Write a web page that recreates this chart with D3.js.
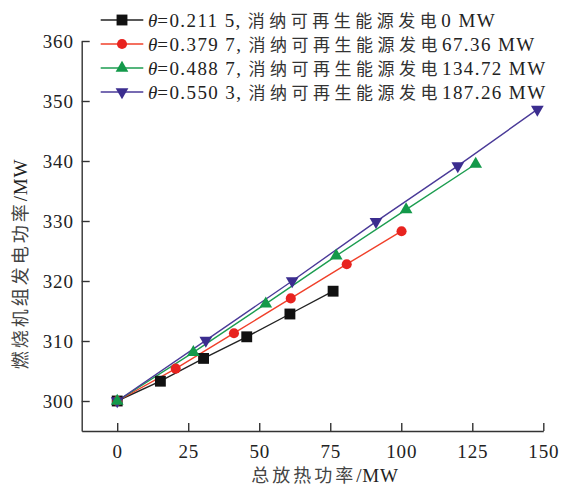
<!DOCTYPE html>
<html>
<head>
<meta charset="utf-8">
<script src="https://cdn.jsdelivr.net/npm/d3@7"></script>
<style>
  body { margin: 0; background: #fff; }
  text { fill: #222; }
</style>
</head>
<body>
<div id="chart"></div>
<script>
// total heat release (MW) and burning unit power (MW), one pair per theta case
const heat0 = [0, 15.2, 30.4, 45.6, 60.8, 76.0]
const power0 = [300, 303.3, 307.1, 310.7, 314.5, 318.3]
const heat1 = [0, 20.6, 41.1, 61.1, 80.8, 100.1]
const power1 = [300, 305.4, 311.3, 317.1, 322.8, 328.3]
const heat2 = [0, 26.8, 52.3, 77.1, 101.7, 126.2]
const power2 = [300, 308.1, 316.2, 324.2, 331.9, 339.5]
const heat3 = [0, 31.2, 61.6, 91.1, 119.9, 147.9]
const power3 = [300, 310.1, 320.0, 329.9, 339.2, 348.6]

const thetas = ['0.211 5', '0.379 7', '0.488 7', '0.550 3']
const renew = ['0', '67.36', '134.72', '187.26']
const xTicks = [0, 25, 50, 75, 100, 125, 150]
const yTicks = [300, 310, 320, 330, 340, 350, 360]

const colors = ['#111111', '#e8231f', '#13994a', '#3b2d8f']
const lineColors = ['#222222', '#f0402a', '#1c9d50', '#4a3a98']
const shapes = [d3.symbolSquare, d3.symbolCircle, d3.symbolTriangle, d3.symbolTriangle]
const shapeSize = [118, 80, 70, 70]

const series = [
    { x: heat0, y: power0 },
    { x: heat1, y: power1 },
    { x: heat2, y: power2 },
    { x: heat3, y: power3 },
]

const width = 561, height = 487
const svg = d3.select('#chart').append('svg')
    .attr('width', width)
    .attr('height', height)

const x = d3.scaleLinear().domain([-12.5, 150]).range([81.7, 543.3])
const y = d3.scaleLinear().domain([295, 360]).range([431, 41])

const serif = 'Liberation Serif, Times New Roman, serif'
const cjk = 'Noto Sans CJK SC, sans-serif'

// axes, ticks pointing inward
const xAxis = svg.append('g')
    .attr('transform', `translate(0, ${y(295)})`)
    .call(d3.axisBottom(x).tickValues(xTicks).tickSizeInner(-8).tickSizeOuter(0).tickPadding(10))
const yAxis = svg.append('g')
    .attr('transform', `translate(${x(-12.5)}, 0)`)
    .call(d3.axisLeft(y).tickValues(yTicks).tickSizeInner(-8).tickSizeOuter(0).tickPadding(8))

;[xAxis, yAxis].forEach(a => {
    a.select('.domain').attr('stroke', '#333').attr('stroke-width', 1.4)
    a.selectAll('.tick line').attr('stroke', '#333').attr('stroke-width', 1.4)
    a.selectAll('.tick text')
        .attr('font-family', serif)
        .attr('font-size', 19)
        .attr('letter-spacing', 0.8)
        .attr('fill', '#222')
})
xAxis.selectAll('.tick text').attr('dy', '0.9em')

// axis titles
const xTitle = svg.append('text')
    .attr('x', 325)
    .attr('y', 482)
    .attr('text-anchor', 'middle')
    .attr('font-size', 18)
xTitle.append('tspan').attr('font-family', cjk).attr('fill', '#444').attr('letter-spacing', 3).text('总放热功率')
xTitle.append('tspan').attr('font-family', serif).attr('font-size', 19).attr('letter-spacing', 0.8).text('/MW')

const yTitle = svg.append('text')
    .attr('transform', 'translate(27, 264) rotate(-90)')
    .attr('text-anchor', 'middle')
    .attr('font-size', 18)
yTitle.append('tspan').attr('font-family', cjk).attr('fill', '#444').attr('letter-spacing', 3).text('燃烧机组发电功率')
yTitle.append('tspan').attr('font-family', serif).attr('font-size', 19).attr('letter-spacing', 0.8).text('/MW')

// lines and markers
const line = d3.line()
series.forEach((s, i) => {
    const pts = s.x.map((v, j) => [x(v), y(s.y[j])])
    svg.append('path')
        .attr('d', line(pts))
        .attr('fill', 'none')
        .attr('stroke', lineColors[i])
        .attr('stroke-width', 1.4)
})
const drawOrder = [0, 1, 3, 2]
drawOrder.forEach(i => {
    const s = series[i]
    svg.append('g').selectAll('path')
        .data(s.x.map((v, j) => [v, s.y[j]]))
        .join('path')
        .attr('d', d3.symbol().type(shapes[i]).size(shapeSize[i]))
        .attr('transform', d => `translate(${x(d[0])}, ${y(d[1])})` + (i == 3 ? ' rotate(180)' : ''))
        .attr('fill', colors[i])
})

// legend
const legend = svg.append('g')
thetas.forEach((t, i) => {
    const ly = 20 + i * 24
    legend.append('line')
        .attr('x1', 100.7).attr('x2', 143.3)
        .attr('y1', ly).attr('y2', ly)
        .attr('stroke', lineColors[i])
        .attr('stroke-width', 1.4)
    legend.append('path')
        .attr('d', d3.symbol().type(shapes[i]).size(shapeSize[i])())
        .attr('transform', `translate(122, ${ly})` + (i == 3 ? ' rotate(180)' : ''))
        .attr('fill', colors[i])
    const txt = legend.append('text')
        .attr('x', 148)
        .attr('y', ly)
        .attr('dy', '0.35em')
        .attr('font-size', 19)
    txt.append('tspan').attr('font-family', serif).attr('font-style', 'italic').text('θ')
    txt.append('tspan').attr('font-family', serif).attr('letter-spacing', 1.4).text(`=${t}, `)
    txt.append('tspan').attr('font-family', cjk).attr('fill', '#333').attr('font-size', 17).attr('letter-spacing', 4.5).text('消纳可再生能源发电')
    txt.append('tspan').attr('font-family', serif).attr('letter-spacing', 1.4).text(`${renew[i]} MW`)
})
</script>
</body>
</html>
